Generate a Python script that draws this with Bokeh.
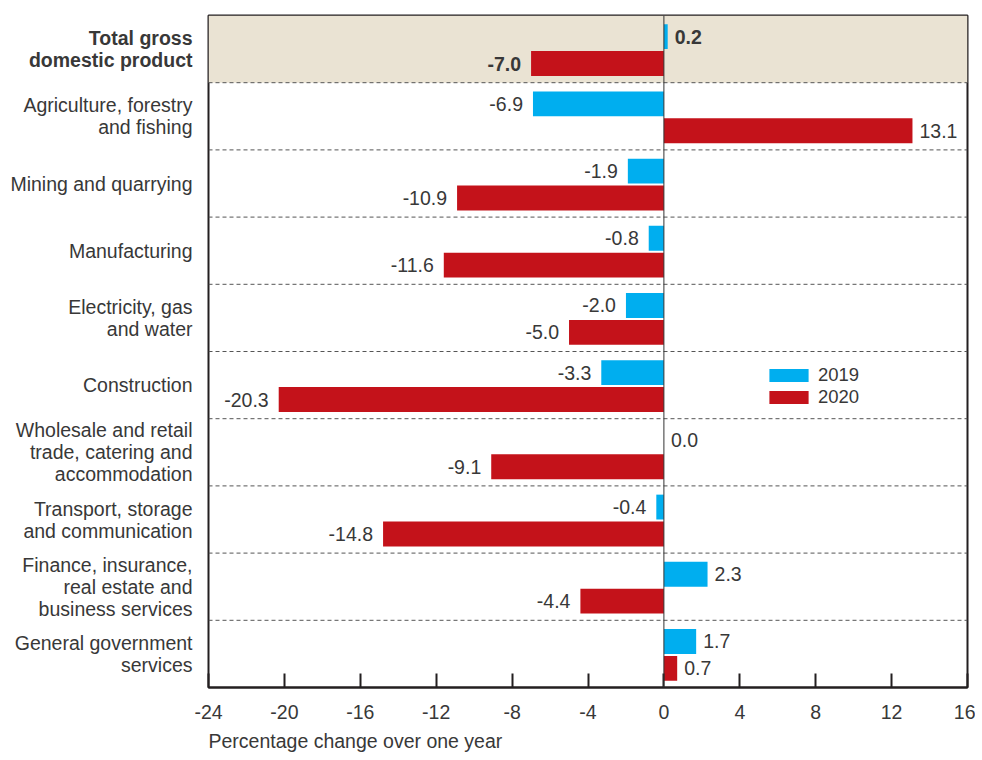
from bokeh.plotting import figure
from bokeh.layouts import row
from bokeh.models import (ColumnDataSource, Range1d, FixedTicker, Span, BoxAnnotation,
                          Title, Legend, LegendItem)
from bokeh.core.properties import value
from bokeh.embed import file_html
from bokeh.resources import INLINE
import numpy as np

categories = [
    "Total gross\ndomestic product",
    "Agriculture, forestry\nand fishing",
    "Mining and quarrying",
    "Manufacturing",
    "Electricity, gas\nand water",
    "Construction",
    "Wholesale and retail\ntrade, catering and\naccommodation",
    "Transport, storage\nand communication",
    "Finance, insurance,\nreal estate and\nbusiness services",
    "General government\nservices",
]
values_2019 = [0.2, -6.9, -1.9, -0.8, -2.0, -3.3, 0.0, -0.4, 2.3, 1.7]
values_2020 = [-7.0, 13.1, -10.9, -11.6, -5.0, -20.3, -9.1, -14.8, -4.4, 0.7]
x_ticks = [-24, -20, -16, -12, -8, -4, 0, 4, 8, 12, 16]
series_names = ["2019", "2020"]
x_title = "Percentage change over one year"

FONT = "Liberation Sans"
TXT = "#383838"
BLUE = "#00AEEF"
RED = "#C4121A"
FS = "19.5px"
H = 760
TOP = 15
BOTTOM = 73
LABEL_W = 193
GAP = 15

n = len(categories)
idx = np.arange(n)
styles = ["bold"] + ["normal"] * (n - 1)
y_range = Range1d(n - 0.5, -0.5)

# ---------- main chart ----------
p = figure(width=975 - LABEL_W, height=H, output_backend="svg", toolbar_location=None,
           x_range=Range1d(x_ticks[0], x_ticks[-1]), y_range=y_range)
p.min_border_left = GAP
p.min_border_right = 8
p.min_border_top = TOP
p.min_border_bottom = BOTTOM
p.xgrid.visible = False
p.ygrid.visible = False
p.yaxis.visible = False
p.outline_line_color = "#231f20"
p.outline_line_width = 2

p.add_layout(BoxAnnotation(bottom=-0.5, top=0.5, fill_color="#EAE3D3", fill_alpha=1,
                           line_color=None, level="underlay"))
for k in range(n - 1):
    p.add_layout(Span(location=k + 0.5, dimension="width", line_color="#555555",
                      line_width=1, line_dash="4 3", level="underlay"))

bar_h = 0.37
y19 = idx - 0.185
y20 = idx + 0.215
src19 = ColumnDataSource(dict(y=y19, v=values_2019))
src20 = ColumnDataSource(dict(y=y20, v=values_2020))
r19 = p.hbar(y="y", right="v", left=0, height=bar_h, source=src19, fill_color=BLUE, line_color=None)
r20 = p.hbar(y="y", right="v", left=0, height=bar_h, source=src20, fill_color=RED, line_color=None)

p.add_layout(Span(location=0, dimension="height", line_color="#333333", line_width=1))

for vals, ys in [(values_2019, y19), (values_2020, y20)]:
    vals = np.array(vals)
    src = ColumnDataSource(dict(
        x=vals, y=ys, t=[f"{v:.1f}" for v in vals],
        align=["right" if v < 0 else "left" for v in vals],
        off=[-10 if v < 0 else 7 for v in vals],
        st=styles))
    p.text(x="x", y="y", text="t", source=src, text_align="align", x_offset="off",
           text_baseline="middle", text_font=value(FONT), text_font_size=FS,
           text_color=TXT, text_font_style="st")

ax = p.xaxis[0]
ax.ticker = FixedTicker(ticks=x_ticks)
ax.major_label_overrides = {t: str(t) for t in x_ticks}
ax.major_tick_in = 14
ax.major_tick_out = 0
ax.major_tick_line_width = 2
ax.major_tick_line_color = "#231f20"
ax.minor_tick_line_color = None
ax.axis_line_width = 2
ax.axis_line_color = "#231f20"
ax.major_label_standoff = 17
ax.major_label_text_font = FONT
ax.major_label_text_font_size = FS
ax.major_label_text_color = TXT

p.add_layout(Title(text=x_title, align="left", text_font=FONT, text_font_size=FS,
                   text_font_style="normal", text_color=TXT, standoff=12, offset=0),
             "below")

legend = Legend(items=[LegendItem(label=series_names[0], renderers=[r19]),
                       LegendItem(label=series_names[1], renderers=[r20])],
                location=(556, 279), glyph_width=49, glyph_height=16,
                label_text_font=FONT, label_text_font_size="18.5px", label_text_color=TXT,
                label_standoff=5, label_height=22, padding=0, margin=0, spacing=0,
                border_line_color=None, background_fill_alpha=0)
p.add_layout(legend)

# ---------- category labels panel ----------
q = figure(width=LABEL_W, height=H, output_backend="svg", toolbar_location=None,
           x_range=Range1d(0, 1), y_range=y_range)
q.min_border_left = 0
q.min_border_right = 0
q.min_border_top = TOP
q.min_border_bottom = BOTTOM
q.xgrid.visible = False
q.ygrid.visible = False
q.xaxis.visible = False
q.yaxis.visible = False
q.outline_line_color = None

cat_src = ColumnDataSource(dict(x=[1] * n, y=idx, t=categories, st=styles))
q.text(x="x", y="y", text="t", source=cat_src, x_offset=-1, text_align="right",
       text_baseline="middle", text_font=value(FONT), text_font_size=FS,
       text_color=TXT, text_font_style="st", text_line_height=1.0)

layout = row(q, p)
open("out.html", "w").write(file_html(layout, INLINE))
